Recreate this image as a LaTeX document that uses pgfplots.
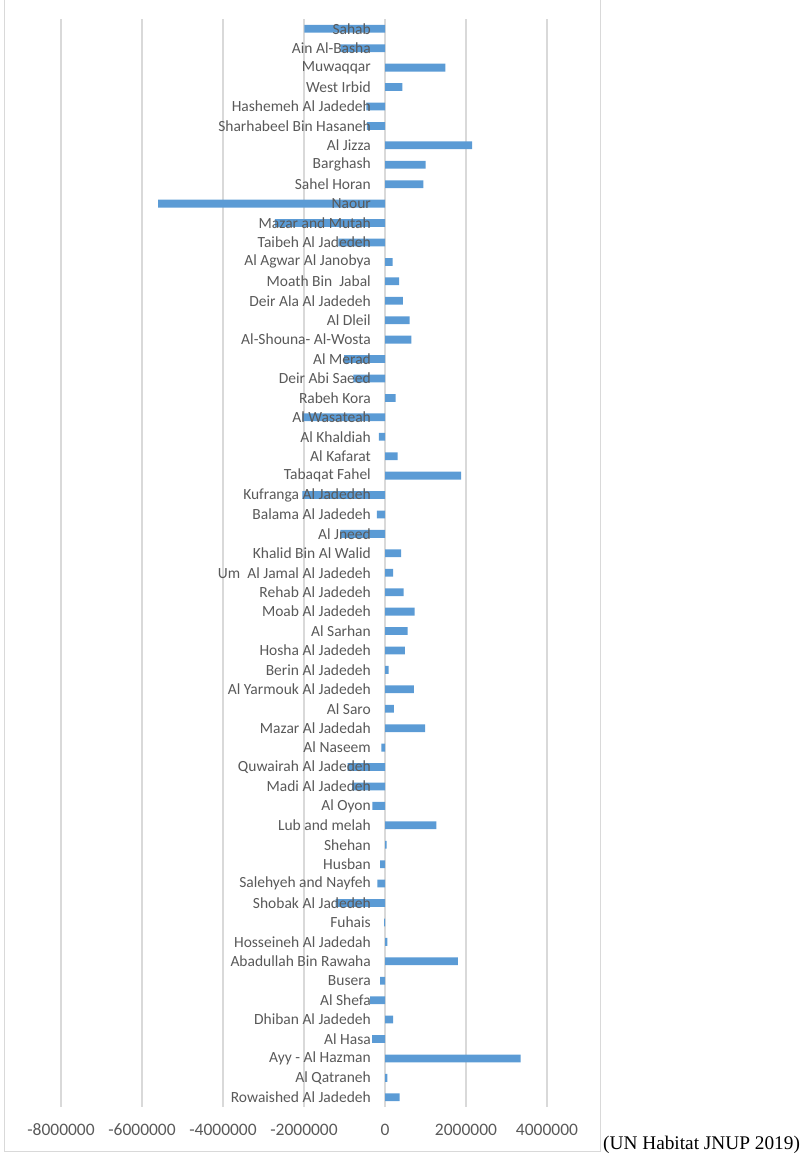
\documentclass[border=0pt]{standalone}
\usepackage{fontspec}
\setmainfont{Carlito}
\newfontfamily\timesf{Liberation Serif}
\usepackage{pgfplots}
\pgfplotsset{compat=1.18}
\definecolor{barblue}{HTML}{5B9BD5}
\definecolor{gridg}{HTML}{D9D9D9}
\definecolor{txtg}{HTML}{595959}
\pgfplotsset{common/.style={at={(61pt,50pt)}, anchor=south west, scale only axis,
 width=486pt, height=1088pt,
 xmin=-8000000, xmax=4000000, ymin=-0.5, ymax=55.5, y dir=reverse,
 axis line style={draw=none}, major tick length=0pt, scaled x ticks=false}}
\begin{document}
\begin{tikzpicture}[x=1pt,y=1pt]
\useasboundingbox (0,0) rectangle (803,1157);
\draw[gridg, line width=1pt] (4,1157) -- (4,5) -- (600,5) -- (600,1157);
\begin{axis}[common,
 xbar, bar width=7.8pt,
 xmajorgrids, grid style={gridg, line width=1.3pt},
 xtick={-8000000,-6000000,-4000000,-2000000,0,2000000,4000000},
 xticklabels={-8000000,-6000000,-4000000,-2000000,0,2000000,4000000},
 xticklabel style={font=\fontsize{17.5}{19}\selectfont, text=txtg, inner sep=0pt, anchor=center, yshift=-23pt},
 ytick=\empty,
]
\addplot[fill=barblue, draw=none] coordinates {
(-1990000,0) (-1100000,1) (1490000,2) (430000,3) (-460000,4) (-450000,5)
(2150000,6) (1000000,7) (950000,8) (-5600000,9) (-2720000,10) (-1150000,11)
(190000,12) (350000,13) (440000,14) (610000,15) (650000,16) (-1010000,17)
(-780000,18) (260000,19) (-2040000,20) (-150000,21) (310000,22) (1880000,23)
(-2040000,24) (-200000,25) (-1100000,26) (400000,27) (200000,28) (460000,29)
(730000,30) (560000,31) (490000,32) (90000,33) (710000,34) (220000,35)
(990000,36) (-90000,37) (-920000,38) (-810000,39) (-310000,40) (1270000,41)
(40000,42) (-120000,43) (-190000,44) (-1220000,45) (-20000,46) (60000,47)
(1800000,48) (-120000,49) (-370000,50) (200000,51) (-320000,52) (3350000,53)
(60000,54) (360000,55)
};
\end{axis}
\begin{axis}[common,
 xtick=\empty,
 ytick={0,...,55},
 yticklabels={Sahab,Ain Al-Basha,Muwaqqar,West Irbid,Hashemeh Al Jadedeh,Sharhabeel Bin Hasaneh,Al Jizza,Barghash\ ,Sahel Horan,Naour,Mazar and Mutah,Taibeh Al Jadedeh,Al Agwar Al Janobya,Moath Bin~ Jabal,Deir Ala Al Jadedeh,Al Dleil,Al-Shouna- Al-Wosta,Al Merad,Deir Abi Saeed,Rabeh Kora,Al Wasateah,Al Khaldiah,Al Kafarat,Tabaqat Fahel,Kufranga Al Jadedeh,Balama Al Jadedeh,Al Jneed,Khalid Bin Al Walid,Um~ Al Jamal Al Jadedeh,Rehab Al Jadedeh,Moab Al Jadedeh,Al Sarhan,Hosha Al Jadedeh,Berin Al Jadedeh,Al Yarmouk Al Jadedeh,Al Saro,Mazar Al Jadedah,Al Naseem,Quwairah Al Jadedeh,Madi Al Jadedeh,Al Oyon,Lub and melah,Shehan,Husban,Salehyeh and Nayfeh,Shobak Al Jadedeh,Fuhais,Hosseineh Al Jadedah,Abadullah Bin Rawaha,Busera,Al Shefa,Dhiban Al Jadedeh,Al Hasa,Ayy - Al Hazman,Al Qatraneh,Rowaished Al Jadedeh},
 yticklabel style={font=\fontsize{15.5}{17}\selectfont, text=txtg, inner sep=0pt, anchor=east, xshift=310pt},
]
\end{axis}
\node[anchor=base west, inner sep=0pt, font=\timesf\fontsize{19.3}{21}\selectfont] at (603,7) {(UN Habitat JNUP 2019)};
\end{tikzpicture}
\end{document}
